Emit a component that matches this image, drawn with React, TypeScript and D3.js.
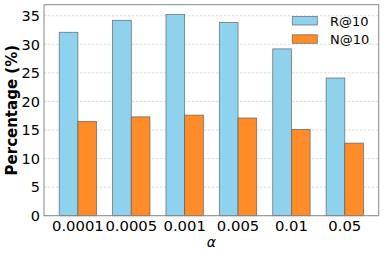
import React from "react";
import * as d3 from "d3";

const categories = ["0.0001", "0.0005", "0.001", "0.005", "0.01", "0.05"];
const recall = [32.1, 34.2, 35.2, 33.8, 29.2, 24.1];
const ndcg = [16.5, 17.3, 17.6, 17.1, 15.1, 12.7];
const yTicks = [0, 5, 10, 15, 20, 25, 30, 35];
const seriesNames = ["R@10", "N@10"];
const colors = ["#8ed2ee", "#ff8c28"];

export default function App() {
  const W = 384, H = 256;
  const left = 44, right = 378.7, top = 4.7, bottom = 215.7;
  const x = d3.scaleLinear().domain([-0.635, 5.635]).range([left, right]);
  const y = d3.scaleLinear().domain([0, 36.93]).range([bottom, top]);
  const bw = 0.35;
  const font = "DejaVu Sans, sans-serif";
  const series = [recall, ndcg];
  return (
    <svg width={W} height={H} style={{ position: "absolute", left: 0, top: 0 }}>
      <rect x={0} y={0} width={W} height={H} fill="white" />
      {yTicks.map((t) => (
        <line key={"g" + t} x1={left} x2={right} y1={y(t)} y2={y(t)} stroke="#d4d4d4" strokeWidth={0.8} strokeDasharray="2.5,1.5" />
      ))}
      {series.map((vals, s) =>
        vals.map((v, i) => {
          const x0 = x(i + (s === 0 ? -bw : 0));
          const x1 = x(i + (s === 0 ? 0 : bw));
          return (
            <rect key={s + "-" + i} x={x0} y={y(v)} width={x1 - x0} height={y(0) - y(v)} fill={colors[s]} stroke="#5a5a5a" strokeWidth={0.8} strokeOpacity={0.8} />
          );
        })
      )}
      <rect x={left} y={top} width={right - left} height={bottom - top} fill="none" stroke="#888888" strokeWidth={1} />
      {yTicks.map((t) => (
        <text key={"y" + t} x={left - 4} y={y(t)} dy="0.36em" textAnchor="end" fontFamily={font} fontSize={14.5} fill="black">{t}</text>
      ))}
      {categories.map((c, i) => (
        <text key={"x" + c} x={x(i)} y={231} textAnchor="middle" fontFamily={font} fontSize={14.8} fill="black">{c}</text>
      ))}
      <text x={x(2.5)} y={247} textAnchor="middle" fontFamily={font} fontSize={14} fontStyle="italic">α</text>
      <text transform={`translate(17,${(top + bottom) / 2}) rotate(-90)`} textAnchor="middle" fontFamily={font} fontSize={15} fontWeight="bold">Percentage (%)</text>
      {seriesNames.map((n, k) => (
        <g key={n}>
          <rect x={292.3} y={16.5 + k * 18.3} width={25} height={8.5} fill={colors[k]} stroke="#5a5a5a" strokeWidth={0.8} strokeOpacity={0.8} />
          <text x={330} y={25.5 + k * 18.3} fontFamily={font} fontSize={13} fill="black">{n}</text>
        </g>
      ))}
    </svg>
  );
}
